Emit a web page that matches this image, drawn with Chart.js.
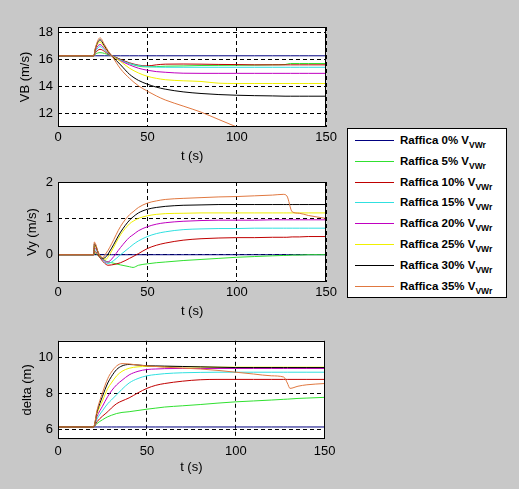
<!DOCTYPE html>
<html>
<head>
<meta charset="utf-8">
<script src="https://cdn.jsdelivr.net/npm/chart.js@4"></script>
<style>
  html, body { margin:0; padding:0; background:#c8c8c8; }
  body { width:519px; height:489px; position:relative; overflow:hidden; font-family:"Liberation Sans", Arial, sans-serif; }
  canvas { position:absolute; left:0; }
  #legend { position:absolute; left:347px; top:128px; width:158px; height:168px; background:#fff; border:1px solid #000; }
  .row { position:absolute; left:0; height:21px; width:158px; }
  .ln { position:absolute; left:7px; top:10px; width:39px; height:1px; }
  .tx { position:absolute; left:52px; top:3px; font-weight:bold; font-size:11.5px; line-height:14px; color:#000; white-space:nowrap; }
  .tx sub { font-size:8.5px; vertical-align:-4px; line-height:0; }
</style>
</head>
<body>
<canvas id="c1" width="340" height="168" style="top:0px"></canvas>
<canvas id="c2" width="340" height="160" style="top:168px"></canvas>
<canvas id="c3" width="340" height="161" style="top:328px"></canvas>
<div id="legend"></div>
<script>
// ---------- data ----------
const seriesNames = ["Raffica 0% V", "Raffica 5% V", "Raffica 10% V", "Raffica 15% V",
                     "Raffica 20% V", "Raffica 25% V", "Raffica 30% V", "Raffica 35% V"];
const seriesSub = "VWr";
const seriesColors = ["#000080", "#30e030", "#c00000", "#30e0e0", "#c000c0", "#f0f000", "#000000", "#e07840"];

const xTicks = [0, 50, 100, 150];

// VB (m/s)
const tVB = [0, 20, 21, 23.5, 26, 28, 30, 35, 40, 45, 50, 55, 60, 70, 80, 90, 100, 110, 120, 127, 130, 135, 140, 150];
const vb0  = [16.27,16.27,16.27,16.27,16.27,16.27,16.27,16.27,16.27,16.27,16.27,16.27,16.27,16.27,16.27,16.27,16.27,16.27,16.27,16.27,16.27,16.27,16.27,16.27];
const vb5  = [16.27,16.27,16.4,16.5,16.45,16.35,16.28,16.0,15.7,15.5,15.45,15.47,15.5,15.52,15.55,15.56,15.57,15.58,15.6,15.62,15.7,15.7,15.7,15.7];
const vb10 = [16.27,16.27,16.5,16.75,16.6,16.4,16.28,16.0,15.75,15.58,15.52,15.6,15.65,15.66,15.65,15.63,15.62,15.6,15.6,15.6,15.6,15.6,15.6,15.6];
const vb15 = [16.27,16.27,16.6,16.95,16.7,16.45,16.28,15.95,15.7,15.55,15.47,15.43,15.42,15.42,15.42,15.42,15.42,15.42,15.42,15.42,15.42,15.42,15.42,15.42];
const vb20 = [16.27,16.27,16.7,17.1,16.8,16.5,16.28,15.9,15.6,15.35,15.2,15.1,15.05,14.98,14.97,14.97,14.97,14.97,14.97,14.97,14.97,14.97,14.97,14.97];
const vb25 = [16.27,16.27,16.8,17.3,16.9,16.55,16.28,15.85,15.35,15.0,14.75,14.6,14.5,14.42,14.37,14.24,14.22,14.22,14.22,14.22,14.22,14.22,14.22,14.22];
const vb30 = [16.27,16.27,16.85,17.45,17.0,16.6,16.28,15.6,14.9,14.45,14.17,13.95,13.8,13.6,13.48,13.4,13.35,13.32,13.3,13.28,13.28,13.28,13.28,13.28];
const vb35 = [16.27,16.27,16.9,17.6,17.1,16.65,16.28,15.3,14.6,14.05,13.65,13.3,13.0,12.55,12.1,11.55,11.0,10.5,10.0,9.7,9.5,9.2,9.0,8.5];
const vbTicks = [12, 14, 16, 18];

// Vy (m/s)
const tVy = [0, 20, 20.3, 23, 25, 27, 28, 30, 35, 40, 42, 45, 50, 55, 60, 70, 80, 90, 100, 110, 120, 126, 128, 131, 135, 140, 150];
const vy0  = [0,0,0,0,0,0,0,0,0,0,0,0,0,0,0,0,0,0,0,0,0,0,0,0,0,0,0];
const vy5  = [0,0,0.05,-0.05,-0.12,-0.18,-0.2,-0.22,-0.28,-0.33,-0.35,-0.29,-0.25,-0.22,-0.2,-0.16,-0.13,-0.1,-0.07,-0.05,-0.03,-0.02,-0.02,-0.01,-0.01,0,0];
const vy10 = [0,0,0.1,-0.05,-0.18,-0.27,-0.29,-0.28,-0.22,-0.1,-0.05,0.03,0.17,0.26,0.32,0.4,0.44,0.46,0.47,0.47,0.48,0.48,0.48,0.49,0.49,0.5,0.5];
const vy15 = [0,0,0.15,0.0,-0.15,-0.23,-0.24,-0.2,0.0,0.2,0.28,0.38,0.5,0.58,0.63,0.69,0.71,0.72,0.72,0.73,0.73,0.73,0.73,0.73,0.73,0.73,0.73];
const vy20 = [0,0,0.2,0.02,-0.12,-0.2,-0.2,-0.12,0.2,0.48,0.55,0.66,0.77,0.84,0.88,0.92,0.94,0.95,0.95,0.95,0.96,0.96,0.96,0.96,0.96,0.96,0.96];
const vy25 = [0,0,0.25,0.02,-0.1,-0.12,-0.06,0.1,0.55,0.85,0.92,1.0,1.07,1.11,1.13,1.14,1.15,1.15,1.15,1.15,1.15,1.15,1.15,1.15,1.15,1.15,1.15];
const vy30 = [0,0,0.3,0.0,-0.1,-0.05,0.02,0.18,0.62,0.95,1.04,1.15,1.25,1.3,1.33,1.36,1.37,1.38,1.38,1.38,1.38,1.38,1.38,1.38,1.38,1.38,1.38];
const vy35 = [0,0,0.35,0.0,-0.08,0.05,0.12,0.3,0.78,1.1,1.18,1.3,1.42,1.48,1.52,1.55,1.57,1.59,1.6,1.62,1.64,1.66,1.62,1.18,1.14,1.08,1.0];
const vyTicks = [0, 1, 2];

// delta (m)
const tD = [0, 20, 22, 25, 28, 30, 33, 36, 40, 45, 50, 55, 60, 70, 80, 90, 100, 110, 120, 127, 129, 130.5, 135, 140, 150];
const d0  = [6.15,6.15,6.15,6.15,6.15,6.15,6.15,6.15,6.15,6.15,6.15,6.15,6.15,6.15,6.15,6.15,6.15,6.15,6.15,6.15,6.15,6.15,6.15,6.15,6.15];
const d5  = [6.15,6.15,6.35,6.55,6.72,6.8,6.9,6.96,7.0,7.07,7.14,7.2,7.26,7.33,7.4,7.48,7.55,7.6,7.65,7.69,7.7,7.71,7.74,7.76,7.8];
const d10 = [6.15,6.15,6.45,6.75,7.0,7.2,7.45,7.6,7.77,8.05,8.3,8.47,8.57,8.7,8.78,8.8,8.8,8.8,8.8,8.8,8.8,8.8,8.8,8.8,8.8];
const d15 = [6.15,6.15,6.6,7.05,7.45,7.65,7.95,8.25,8.6,8.85,9.0,9.07,9.12,9.17,9.19,9.2,9.2,9.2,9.2,9.2,9.2,9.2,9.2,9.2,9.2];
const d20 = [6.15,6.15,6.75,7.3,7.85,8.15,8.5,8.75,9.05,9.25,9.35,9.38,9.4,9.41,9.41,9.41,9.41,9.41,9.41,9.41,9.41,9.41,9.41,9.41,9.41];
const d25 = [6.15,6.15,6.9,7.6,8.3,8.6,9.0,9.25,9.42,9.5,9.52,9.52,9.5,9.5,9.49,9.48,9.48,9.48,9.48,9.48,9.48,9.48,9.48,9.48,9.48];
const d30 = [6.15,6.15,7.0,7.85,8.6,8.95,9.35,9.55,9.63,9.6,9.56,9.55,9.54,9.52,9.5,9.48,9.46,9.46,9.46,9.46,9.46,9.46,9.46,9.46,9.46];
const d35 = [6.15,6.15,7.1,8.05,8.85,9.2,9.55,9.68,9.66,9.6,9.55,9.52,9.48,9.43,9.38,9.3,9.2,9.1,9.0,8.93,8.6,8.3,8.42,8.5,8.57];
const dTicks = [6, 8, 10];

// ---------- drawing ----------
const FONT = { family: '"Liberation Sans", Arial, sans-serif', size: 13 };

const framePlugin = {
  id: 'frame',
  beforeDraw(chart) {
    const {ctx, chartArea: a} = chart;
    ctx.save();
    ctx.fillStyle = '#ffffff';
    ctx.fillRect(a.left, a.top, a.right - a.left, a.bottom - a.top);
    ctx.restore();
  },
  afterDraw(chart) {
    const {ctx, chartArea: a} = chart;
    ctx.save();
    ctx.strokeStyle = '#000';
    ctx.lineWidth = 1;
    ctx.strokeRect(Math.round(a.left) + 0.5, Math.round(a.top) + 0.5,
                   Math.round(a.right - a.left) - 1, Math.round(a.bottom - a.top) - 1);
    ctx.restore();
  }
};

function makeChart(id, t, series, yMin, yMax, yTicks, yTitle, cfg) {
  const datasets = series.map((vals, i) => ({
    label: seriesNames[i],
    data: t.map((x, k) => ({x: x, y: vals[k]})),
    borderColor: seriesColors[i],
    backgroundColor: seriesColors[i],
    borderWidth: 1,
    pointRadius: 0,
    cubicInterpolationMode: 'monotone',
    order: series.length - 1 - i
  }));
  return new Chart(document.getElementById(id), {
    type: 'line',
    data: { datasets },
    plugins: [framePlugin],
    options: {
      responsive: false,
      animation: false,
      events: [],
      layout: { padding: { top: cfg.padTop, right: cfg.padRight, left: 0, bottom: 0 } },
      plugins: { legend: { display: false }, tooltip: { enabled: false } },
      scales: {
        x: {
          type: 'linear', min: 0, max: 150,
          afterBuildTicks: s => { s.ticks = xTicks.map(v => ({value: v})); },
          afterFit: s => { s.height = cfg.xHeight; },
          grid: { color: '#000', lineWidth: 1, drawTicks: false },
          border: { display: false, dash: [4, 3] },
          ticks: { color: '#000', font: FONT, padding: cfg.xTickPad, maxRotation: 0 },
          title: { display: true, text: 't (s)', color: '#000', font: FONT, padding: { top: 0, bottom: cfg.xTitlePad } }
        },
        y: {
          type: 'linear', min: yMin, max: yMax,
          afterBuildTicks: s => { s.ticks = yTicks.map(v => ({value: v})); },
          afterFit: s => { s.width = 58; },
          grid: { color: '#000', lineWidth: 1, drawTicks: false },
          border: { display: false, dash: [4, 3] },
          ticks: { color: '#000', font: FONT, padding: 5 },
          title: { display: true, text: yTitle, color: '#000', font: FONT, padding: { top: cfg.yTitlePad, bottom: 0 } }
        }
      }
    }
  });
}

makeChart('c1', tVB, [vb0, vb5, vb10, vb15, vb20, vb25, vb30, vb35], 11, 18.4, vbTicks, 'VB (m/s)',
  { padTop: 27, padRight: 12, xHeight: 41, xTickPad: 3, xTitlePad: 3.5, yTitlePad: 17.8 });
makeChart('c2', tVy, [vy0, vy5, vy10, vy15, vy20, vy25, vy30, vy35], -0.75, 2, vyTicks, 'Vy (m/s)',
  { padTop: 14, padRight: 12, xHeight: 46, xTickPad: 3, xTitlePad: 8.5, yTitlePad: 25 });
makeChart('c3', tD, [d0, d5, d10, d15, d20, d25, d30, d35], 5.48, 10.95, dTicks, 'delta (m)',
  { padTop: 9, padRight: 12, xHeight: 50, xTickPad: 4.5, xTitlePad: 14, yTitlePad: 19.7 });

// legend (HTML, for the subscript)
const leg = document.getElementById('legend');
seriesNames.forEach((name, i) => {
  const row = document.createElement('div');
  row.className = 'row';
  row.style.top = Math.round(1 + i * 20.8) + 'px';
  const ln = document.createElement('div');
  ln.className = 'ln';
  ln.style.background = seriesColors[i];
  const tx = document.createElement('div');
  tx.className = 'tx';
  tx.textContent = name;
  const sub = document.createElement('sub');
  sub.textContent = seriesSub;
  tx.appendChild(sub);
  row.appendChild(ln);
  row.appendChild(tx);
  leg.appendChild(row);
});
</script>
</body>
</html>
